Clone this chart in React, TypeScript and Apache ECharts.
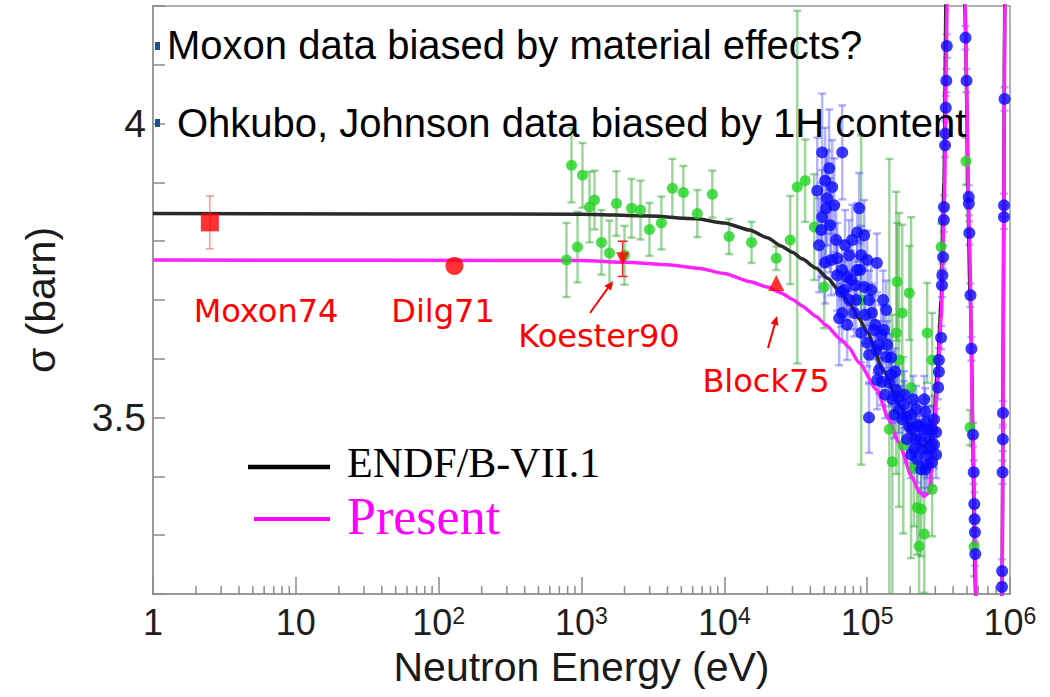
import React, { useEffect, useRef } from "react";
import * as echarts from "echarts";

// ---------- data ----------
const xTickExponents = [0, 1, 2, 3, 4, 5, 6];
const minorMultipliers = [2, 3, 4, 5, 6, 7, 8, 9];
const yLabelValues = [3.5, 4];

// ENDF/B-VII.1 evaluation [E (eV), sigma (b)]
const endfCurve: number[][] = [
  [1, 3.847], [1000, 3.846], [3000, 3.843], [6400, 3.838], [10000, 3.831], [15000, 3.819],
  [20000, 3.806], [25000, 3.792], [30000, 3.781], [35000, 3.77], [44000, 3.754], [53000, 3.737],
  [63000, 3.717], [75000, 3.695], [88000, 3.668], [100000, 3.645], [130000, 3.58], [170000, 3.52],
  [210000, 3.47], [245000, 3.45], [275000, 3.46], [295000, 3.5], [310000, 3.58], [330000, 3.7],
  [345000, 3.9], [358000, 4.25], [400000, 6], [440000, 7], [472000, 5], [482000, 4.2],
  [527000, 3.7], [575000, 3.2], [650000, 2.6], [840000, 2.8], [878000, 3.2], [920000, 4.2],
  [960000, 6], [1000000, 8],
];

// Present evaluation [E (eV), sigma (b)]
const presentCurve: number[][] = [
  [1, 3.768], [1000, 3.767], [2070, 3.764], [4000, 3.760], [6600, 3.754], [10000, 3.745],
  [15200, 3.731], [20000, 3.722], [25000, 3.712], [30000, 3.701], [35000, 3.69], [44000, 3.672],
  [51000, 3.658], [66000, 3.632], [74000, 3.62], [88000, 3.593], [117000, 3.547], [142000, 3.497],
  [166000, 3.458], [205000, 3.4], [230000, 3.375], [250000, 3.366], [273000, 3.373],
  [282000, 3.417], [294000, 3.468], [310000, 3.559], [330000, 3.671], [347000, 3.87],
  [363000, 4.2], [400000, 6], [440000, 7], [470000, 5], [484000, 4.2], [520000, 3.81],
  [550000, 3.47], [579000, 3.2], [650000, 2.6], [840000, 2.8], [878000, 3.2], [923000, 4.2],
  [960000, 6], [1000000, 8],
];

// Green measurements [E, sigma, uncertainty]
const greenPoints: number[][] = [
  [785, 3.768, 0.063], [851, 3.929, 0.063], [938, 3.79, 0.06], [1016, 3.912, 0.055],
  [1138, 3.858, 0.06], [1233, 3.87, 0.05], [1380, 3.798, 0.055], [1570, 3.78, 0.055],
  [1757, 3.864, 0.055], [2000, 3.776, 0.05], [2238, 3.856, 0.05], [2588, 3.853, 0.05],
  [2991, 3.82, 0.045], [3625, 3.831, 0.045], [4327, 3.89, 0.05], [5166, 3.883, 0.045],
  [6471, 3.847, 0.04], [8240, 3.88, 0.04], [10800, 3.808, 0.03], [15500, 3.798, 0.035],
  [23100, 3.771, 0.02], [28900, 3.802, 0.075], [32400, 3.892, 0.3], [36800, 3.903, 0.07],
  [42600, 3.824, 0.09], [50000, 3.722, 0.07], [90800, 3.7, 0.28], [162000, 3.731, 0.1],
  [197000, 3.712, 0.08], [176000, 3.678, 0.15], [160000, 3.644, 0.24], [263000, 3.644, 0.085],
  [167000, 3.598, 0.25], [285000, 3.598, 0.08], [203000, 3.551, 0.29], [143000, 3.48, 0.46],
  [179000, 3.453, 0.15], [150000, 3.425, 0.25], [213000, 3.415, 0.1], [285000, 3.378, 0.08],
  [224000, 3.347, 0.08], [239000, 3.344, 0.08], [251000, 3.302, 0.1], [231000, 3.281, 0.1],
  [329000, 3.79, 0.04], [492000, 3.936, 0.04], [525000, 3.483, 0.03], [560000, 3.28, 0.05],
];

// Blue measurements [E, sigma, uncertainty]
const bluePoints: number[][] = [
  [48400, 3.951, 0.1], [66900, 3.951, 0.08], [54200, 3.924, 0.1], [56900, 3.892, 0.08],
  [52500, 3.873, 0.08], [51600, 3.856, 0.1], [48400, 3.841, 0.08], [47700, 3.819, 0.08],
  [60700, 3.802, 0.06], [87900, 3.856, 0.06], [95300, 3.81, 0.06], [85100, 3.815, 0.05],
  [90800, 3.776, 0.05], [74800, 3.776, 0.06], [66900, 3.751, 0.05], [61700, 3.742, 0.06],
  [72400, 3.739, 0.05], [117000, 3.763, 0.05], [95300, 3.722, 0.05], [83800, 3.7, 0.05],
  [103000, 3.7, 0.05], [136000, 3.683, 0.05], [66900, 3.678, 0.05], [81100, 3.678, 0.04],
  [63700, 3.669, 0.08], [90800, 3.644, 0.05], [108000, 3.678, 0.05], [100000, 3.627, 0.04],
  [116000, 3.615, 0.04], [136000, 3.603, 0.04], [147000, 3.602, 0.04], [121000, 3.581, 0.04],
  [127000, 3.561, 0.04], [143000, 3.559, 0.04], [160000, 3.547, 0.04], [150000, 3.531, 0.04],
  [167000, 3.514, 0.04], [155000, 3.505, 0.04], [187000, 3.502, 0.04], [220000, 3.514, 0.04],
  [251000, 3.531, 0.04], [197000, 3.485, 0.04], [231000, 3.485, 0.04], [259000, 3.492, 0.04],
  [285000, 3.48, 0.04], [304000, 3.475, 0.04], [220000, 3.463, 0.04], [243000, 3.446, 0.04],
  [271000, 3.463, 0.04], [285000, 3.424, 0.04], [103000, 3.5, 0.06], [56000, 3.768, 0.06],
  [69000, 3.717, 0.05], [77000, 3.734, 0.05], [85000, 3.751, 0.05], [112000, 3.649, 0.05],
  [121000, 3.624, 0.04], [131000, 3.649, 0.04], [182000, 3.539, 0.04], [205000, 3.48, 0.04],
  [213000, 3.446, 0.04], [263000, 3.437, 0.04], [294000, 3.454, 0.04], [255000, 3.412, 0.04],
  [44700, 3.886, 0.09], [46100, 3.793, 0.08], [50800, 3.764, 0.07], [55100, 3.827, 0.08],
  [58800, 3.861, 0.08], [50800, 3.903, 0.09], [61700, 3.771, 0.06], [70000, 3.793, 0.06],
  [78500, 3.802, 0.06], [65600, 3.714, 0.06], [74800, 3.7, 0.05], [72400, 3.658, 0.06],
  [82400, 3.725, 0.05], [89300, 3.751, 0.05], [100000, 3.768, 0.05], [96800, 3.675, 0.05],
  [106700, 3.717, 0.05], [113800, 3.658, 0.05], [103200, 3.607, 0.05], [125300, 3.641, 0.05],
  [129400, 3.7, 0.05], [138000, 3.624, 0.04], [117500, 3.564, 0.05], [133600, 3.539, 0.04],
  [147200, 3.573, 0.04], [157000, 3.578, 0.04], [164800, 3.534, 0.04], [175800, 3.497, 0.04],
  [181500, 3.522, 0.04], [190500, 3.463, 0.04], [203200, 3.505, 0.04], [209900, 3.531, 0.04],
  [223900, 3.488, 0.04], [234900, 3.463, 0.04], [246600, 3.48, 0.04], [254700, 3.51, 0.04],
  [267300, 3.48, 0.04], [276100, 3.449, 0.04], [294400, 3.497, 0.04], [304000, 3.437, 0.04],
  [203200, 3.437, 0.04], [223900, 3.429, 0.04], [263000, 3.42, 0.04], [238800, 3.412, 0.04],
  [329000, 3.636, 0.02], [318000, 3.598, 0.02], [318000, 3.578, 0.02], [314000, 3.551, 0.02],
  [334000, 3.725, 0.02], [336000, 3.742, 0.02], [340000, 3.773, 0.02], [344000, 3.836, 0.02],
  [345000, 3.858, 0.02], [351000, 3.963, 0.02], [353000, 3.983, 0.02], [355000, 4.027, 0.02],
  [358000, 4.073, 0.02], [361000, 4.132, 0.02],
  [488000, 4.146, 0.02], [496000, 4.073, 0.02], [514000, 3.875, 0.02], [515000, 3.864, 0.02],
  [519000, 3.814, 0.02], [529000, 3.708, 0.02], [537000, 3.617, 0.02], [551000, 3.471, 0.02],
  [557000, 3.407, 0.02], [562000, 3.353, 0.02], [565000, 3.327, 0.02], [568000, 3.305, 0.02],
  [571000, 3.268, 0.02],
  [916000, 4.042, 0.02], [908000, 3.861, 0.02], [907000, 3.841, 0.02], [893000, 3.508, 0.02],
  [891000, 3.463, 0.02], [887000, 3.407, 0.02], [881000, 3.239, 0.02], [879000, 3.212, 0.02],
];

// Reference values [E, sigma, uncertainty]
const moxon74 = [[2.5, 3.832, 0.045]];
const dilg71 = [[129, 3.758, 0.004]];
const koester90 = [[1940, 3.77, 0.03]];
const block75 = [[23100, 3.729, 0.0]];

const Y_MIN = 3.2;
const Y_MAX = 4.2;

const SANS = '"Liberation Sans", Arial, sans-serif';

function errorBarSeries(points: number[][], color: string, width: number, cap: number, z: number) {
  return {
    type: "custom",
    z,
    clip: true,
    silent: true,
    encode: { x: 0, y: [1, 2] },
    data: points.map((p) => [p[0], p[1] - p[2], p[1] + p[2]]),
    renderItem: (params: any, api: any) => {
      const x = api.value(0);
      const lo = api.coord([x, api.value(1)]);
      const hi = api.coord([x, api.value(2)]);
      const st = { stroke: color, lineWidth: width };
      return {
        type: "group",
        children: [
          { type: "line", shape: { x1: lo[0], y1: lo[1], x2: hi[0], y2: hi[1] }, style: st },
          { type: "line", shape: { x1: lo[0] - cap, y1: lo[1], x2: lo[0] + cap, y2: lo[1] }, style: st },
          { type: "line", shape: { x1: hi[0] - cap, y1: hi[1], x2: hi[0] + cap, y2: hi[1] }, style: st },
        ],
      };
    },
  };
}

export default function App() {
  const ref = useRef<HTMLDivElement>(null);

  useEffect(() => {
    if (!ref.current) return;
    const chart = echarts.init(ref.current, null, { renderer: "svg" });

    const minorTicks: number[][] = [];
    xTickExponents.slice(0, -1).forEach((k) => {
      minorMultipliers.forEach((m) => minorTicks.push([m * Math.pow(10, k), Y_MIN]));
    });

    const option: any = {
      animation: false,
      backgroundColor: "#ffffff",
      grid: {
        left: 153,
        right: 40,
        top: 6,
        bottom: 103,
        show: true,
        borderColor: "#b0b0b0",
        borderWidth: 2,
        backgroundColor: "transparent",
      },
      xAxis: {
        type: "log",
        logBase: 10,
        min: 1,
        max: 1e6,
        name: "Neutron Energy (eV)",
        nameLocation: "middle",
        nameGap: 52,
        nameTextStyle: { fontFamily: SANS, fontSize: 41, color: "#1a1a1a" },
        axisLine: { show: true, lineStyle: { color: "#9a9a9a", width: 2 } },
        axisTick: { show: true, inside: true, length: 17, lineStyle: { color: "#8a8a8a", width: 1.5 } },
        splitLine: { show: false },
        axisLabel: {
          margin: 10,
          fontFamily: SANS,
          fontSize: 36,
          color: "#1e1e1e",
          showMinLabel: true,
          showMaxLabel: true,
          formatter: (v: number) => {
            const k = Math.round(Math.log10(v));
            if (k === 0) return "1";
            if (k === 1) return "10";
            return "{b|10}{s|" + k + "}";
          },
          rich: {
            b: { fontFamily: SANS, fontSize: 36, color: "#1e1e1e" },
            s: { fontFamily: SANS, fontSize: 23, color: "#1e1e1e", verticalAlign: "top", padding: [0, 0, 6, 0] },
          },
        },
      },
      yAxis: {
        type: "value",
        min: Y_MIN,
        max: Y_MAX,
        interval: 0.1,
        name: "σ (barn)",
        nameLocation: "middle",
        nameGap: 92,
        nameRotate: 90,
        nameTextStyle: { fontFamily: SANS, fontSize: 41, color: "#1a1a1a" },
        axisLine: { show: true, lineStyle: { color: "#9a9a9a", width: 2 } },
        axisTick: { show: true, inside: true, length: 12, lineStyle: { color: "#8a8a8a", width: 1.5 } },
        splitLine: { show: false },
        axisLabel: {
          margin: 7,
          fontFamily: SANS,
          fontSize: 39,
          color: "#1e1e1e",
          formatter: (v: number) => {
            for (const t of yLabelValues) if (Math.abs(v - t) < 1e-6) return String(t);
            return "";
          },
        },
      },
      series: [
        {
          type: "custom",
          z: 1,
          silent: true,
          clip: false,
          encode: { x: 0, y: 1 },
          data: minorTicks,
          renderItem: (params: any, api: any) => {
            const p = api.coord([api.value(0), api.value(1)]);
            return {
              type: "line",
              shape: { x1: p[0], y1: p[1], x2: p[0], y2: p[1] - 8 },
              style: { stroke: "#8a8a8a", lineWidth: 1.5 },
            };
          },
        },
        errorBarSeries(greenPoints, "rgba(40,165,40,0.45)", 2.5, 4, 2),
        errorBarSeries(bluePoints, "rgba(60,60,255,0.38)", 2.5, 4, 3),
        {
          name: "ENDF/B-VII.1",
          type: "line",
          z: 4,
          clip: true,
          showSymbol: false,
          smooth: 0.2,
          smoothMonotone: "x",
          data: endfCurve,
          lineStyle: { color: "#2a2a2a", width: 3.5 },
        },
        {
          name: "Present",
          type: "line",
          z: 4,
          clip: true,
          showSymbol: false,
          smooth: 0.2,
          smoothMonotone: "x",
          data: presentCurve,
          lineStyle: { color: "#ff22ff", width: 3.5 },
        },
        {
          type: "scatter",
          z: 5,
          clip: true,
          symbol: "circle",
          symbolSize: 11,
          data: greenPoints.map((p) => [p[0], p[1]]),
          itemStyle: { color: "#1fd41f" },
        },
        {
          type: "scatter",
          z: 6,
          clip: true,
          symbol: "circle",
          symbolSize: 12,
          data: bluePoints.map((p) => [p[0], p[1]]),
          itemStyle: { color: "#0a0aff" },
        },
        errorBarSeries(moxon74, "rgba(255,60,60,0.55)", 1.5, 4, 7),
        errorBarSeries(koester90, "#e03030", 1.5, 5, 7),
        {
          type: "scatter",
          z: 8,
          symbol: "rect",
          symbolSize: 18,
          data: moxon74.map((p) => [p[0], p[1]]),
          itemStyle: { color: "#ff0000" },
        },
        {
          type: "scatter",
          z: 8,
          symbol: "circle",
          symbolSize: 18,
          data: dilg71.map((p) => [p[0], p[1]]),
          itemStyle: { color: "#ff0000" },
        },
        {
          type: "scatter",
          z: 8,
          symbol: "triangle",
          symbolRotate: 180,
          symbolSize: 13,
          data: koester90.map((p) => [p[0], p[1]]),
          itemStyle: { color: "#ff0000" },
        },
        {
          type: "scatter",
          z: 8,
          symbol: "triangle",
          symbolSize: 16,
          data: block75.map((p) => [p[0], p[1]]),
          itemStyle: { color: "#ff0000" },
        },
      ],
      graphic: [
        { type: "rect", z: 100, shape: { x: 155, y: 42, width: 5, height: 8 }, style: { fill: "#1f4e8f" } },
        { type: "rect", z: 100, shape: { x: 155, y: 119, width: 5, height: 8 }, style: { fill: "#1f4e8f" } },
        {
          type: "text", z: 100, x: 167, y: 45,
          style: { text: "Moxon data biased by material effects?", font: '40px "Liberation Sans"', fill: "#000", align: "left", verticalAlign: "middle" },
        },
        {
          type: "text", z: 100, x: 177, y: 123,
          style: { text: "Ohkubo, Johnson data biased by 1H content", font: '40px "Liberation Sans"', fill: "#000", align: "left", verticalAlign: "middle" },
        },
        { type: "text", z: 100, x: 266, y: 311, style: { text: "Moxon74", font: '32px "DejaVu Sans"', fill: "#ff0000", align: "center", verticalAlign: "middle" } },
        { type: "text", z: 100, x: 443, y: 311, style: { text: "Dilg71", font: '32px "DejaVu Sans"', fill: "#ff0000", align: "center", verticalAlign: "middle" } },
        { type: "text", z: 100, x: 599, y: 336, style: { text: "Koester90", font: '32px "DejaVu Sans"', fill: "#ff0000", align: "center", verticalAlign: "middle" } },
        { type: "text", z: 100, x: 766, y: 381, style: { text: "Block75", font: '32px "DejaVu Sans"', fill: "#ff0000", align: "center", verticalAlign: "middle" } },
        { type: "line", z: 100, shape: { x1: 590, y1: 313, x2: 610, y2: 285 }, style: { stroke: "#ff0000", lineWidth: 2 } },
        { type: "polygon", z: 100, shape: { points: [[613, 281], [611, 290.6], [604.5, 286]] }, style: { fill: "#ff0000" } },
        { type: "line", z: 100, shape: { x1: 768, y1: 348, x2: 776, y2: 320 }, style: { stroke: "#ff0000", lineWidth: 2 } },
        { type: "polygon", z: 100, shape: { points: [[777, 316], [778.4, 325.8], [770.7, 323.6]] }, style: { fill: "#ff0000" } },
        { type: "line", z: 100, shape: { x1: 248, y1: 467, x2: 330, y2: 467 }, style: { stroke: "#000", lineWidth: 4.5 } },
        { type: "text", z: 100, x: 347, y: 463, style: { text: "ENDF/B-VII.1", font: '42px "Liberation Serif"', fill: "#000", align: "left", verticalAlign: "middle" } },
        { type: "line", z: 100, shape: { x1: 254, y1: 519, x2: 330, y2: 519 }, style: { stroke: "#ff00ff", lineWidth: 4 } },
        { type: "text", z: 100, x: 347, y: 516, style: { text: "Present", font: '52px "Liberation Serif"', fill: "#ff00ff", align: "left", verticalAlign: "middle" } },
      ],
    };

    chart.setOption(option);
    return () => chart.dispose();
  }, []);

  return (
    <div
      ref={ref}
      style={{ position: "fixed", left: 0, top: 0, width: 1050, height: 697, background: "#fff" }}
    />
  );
}
